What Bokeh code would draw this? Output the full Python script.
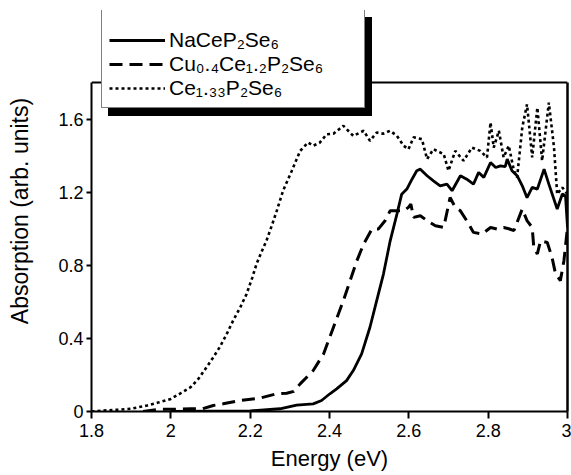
from bokeh.plotting import figure
from bokeh.models import Legend, LegendItem, FixedTicker, Range1d, LinearAxis, Span
from bokeh.embed import file_html
from bokeh.resources import INLINE

FONT = "Liberation Sans"

# ---- data ----
na_E = [2.00, 2.20, 2.275, 2.317, 2.359, 2.38, 2.401, 2.418, 2.443, 2.46, 2.481, 2.502,
        2.519, 2.536, 2.553, 2.57, 2.582, 2.595, 2.608, 2.62, 2.629, 2.646, 2.662, 2.679,
        2.696, 2.709, 2.73, 2.746, 2.763, 2.776, 2.789, 2.806, 2.819, 2.831, 2.843, 2.848,
        2.86, 2.873, 2.886, 2.898, 2.911, 2.924, 2.941, 2.953, 2.974, 2.987, 2.995, 3.0]
na_A = [0.0, 0.003, 0.015, 0.035, 0.042, 0.06, 0.097, 0.124, 0.169, 0.224, 0.315, 0.461,
        0.607, 0.752, 0.934, 1.08, 1.189, 1.217, 1.271, 1.317, 1.326, 1.29, 1.262, 1.235,
        1.244, 1.208, 1.29, 1.271, 1.244, 1.308, 1.281, 1.362, 1.335, 1.344, 1.34, 1.381,
        1.317, 1.29, 1.235, 1.17, 1.226, 1.217, 1.326, 1.244, 1.108, 1.19, 1.18, 1.007]

cu_E = [1.93, 1.97, 2.00, 2.05, 2.08, 2.107, 2.132, 2.174, 2.224, 2.267, 2.292, 2.31,
        2.326, 2.359, 2.385, 2.41, 2.435, 2.452, 2.469, 2.486, 2.507, 2.523, 2.54, 2.553,
        2.57, 2.587, 2.599, 2.605, 2.612, 2.629, 2.646, 2.667, 2.688, 2.704, 2.717, 2.73,
        2.746, 2.763, 2.785, 2.806, 2.823, 2.839, 2.852, 2.865, 2.886, 2.898, 2.911, 2.915,
        2.924, 2.932, 2.949, 2.961, 2.97, 2.982, 2.991, 3.0]
cu_A = [0.0, 0.012, 0.012, 0.015, 0.015, 0.033, 0.042, 0.06, 0.073, 0.097, 0.10, 0.11,
        0.151, 0.224, 0.315, 0.461, 0.607, 0.716, 0.825, 0.916, 0.998, 0.998, 1.044, 1.098,
        1.098, 1.098, 1.117, 1.135, 1.062, 1.071, 1.044, 1.016, 1.007, 1.171, 1.117, 1.098,
        1.044, 0.98, 0.971, 1.007, 0.998, 1.007, 1.0, 0.99, 1.108, 1.044, 1.007, 0.898,
        0.862, 0.934, 0.925, 0.843, 0.752, 0.716, 0.825, 1.007]

ce_E = [1.80, 1.83, 1.87, 1.90, 1.94, 1.97, 2.00, 2.025, 2.05, 2.07, 2.09, 2.105, 2.123,
        2.14, 2.157, 2.175, 2.191, 2.205, 2.216, 2.228, 2.241, 2.255, 2.267, 2.283, 2.305,
        2.326, 2.346, 2.359, 2.375, 2.393, 2.41, 2.435, 2.45, 2.46, 2.486, 2.502, 2.519,
        2.535, 2.553, 2.57, 2.587, 2.599, 2.612, 2.633, 2.646, 2.662, 2.688, 2.70, 2.717,
        2.738, 2.759, 2.78, 2.797, 2.806, 2.814, 2.827, 2.839, 2.852, 2.865, 2.873, 2.886,
        2.898, 2.911, 2.924, 2.936, 2.953, 2.966, 2.974, 2.987, 3.0]
ce_A = [0.0, 0.005, 0.01, 0.015, 0.033, 0.05, 0.069, 0.10, 0.133, 0.18, 0.242, 0.29, 0.351,
        0.42, 0.497, 0.57, 0.643, 0.73, 0.807, 0.87, 0.934, 1.02, 1.098, 1.208, 1.317,
        1.426, 1.472, 1.454, 1.47, 1.517, 1.52, 1.563, 1.53, 1.508, 1.536, 1.481, 1.526,
        1.52, 1.536, 1.508, 1.454, 1.435, 1.50, 1.49, 1.381, 1.435, 1.408, 1.317, 1.426,
        1.372, 1.444, 1.426, 1.39, 1.581, 1.444, 1.536, 1.39, 1.454, 1.317, 1.281, 1.554,
        1.681, 1.39, 1.663, 1.372, 1.69, 1.444, 1.189, 1.226, 1.189]

labels = ["NaCeP₂Se₆", "Cu₀.₄Ce₁.₂P₂Se₆", "Ce₁.₃₃P₂Se₆"]

x_ticks = [1.8, 2.0, 2.2, 2.4, 2.6, 2.8, 3.0]
x_tick_labels = ["1.8", "2", "2.2", "2.4", "2.6", "2.8", "3"]
y_ticks = [0.0, 0.4, 0.8, 1.2, 1.6]
y_tick_labels = ["0", "0.4", "0.8", "1.2", "1.6"]

Y_MIN, Y_MAX = 0.0, 1.8      # data box of the axes
Y_VIEW_TOP = 2.194           # extra room above the box for the legend

p = figure(width=571, height=475, output_backend="svg", toolbar_location=None,
           x_range=Range1d(1.8, 3.0), y_range=Range1d(Y_MIN, Y_VIEW_TOP),
           min_border_left=91, min_border_right=4, min_border_top=10, min_border_bottom=64)

p.xgrid.visible = False
p.ygrid.visible = False
p.outline_line_color = None

r_na = p.line(na_E, na_A, line_color="black", line_width=2.8)
r_cu = p.line(cu_E, cu_A, line_color="black", line_width=3, line_dash="13 7")
r_ce = p.line(ce_E, ce_A, line_color="black", line_width=2.6, line_dash="3 3")

# top edge of the axes box
p.add_layout(Span(location=Y_MAX, dimension="width", line_color="black", line_width=2))

right_ax = LinearAxis(bounds=(Y_MIN, Y_MAX), ticker=FixedTicker(ticks=[]),
                      axis_line_width=2.5, major_label_text_alpha=0,
                      major_tick_line_color=None, minor_tick_line_color=None)
p.add_layout(right_ax, "right")

for ax in (p.xaxis[0], p.yaxis[0]):
    ax.axis_line_width = 2
    ax.major_tick_line_width = 2
    ax.minor_tick_line_color = None
    ax.major_tick_in = 0
    ax.major_label_text_font = FONT
    ax.major_label_text_font_size = "18px"
    ax.major_label_text_color = "black"
    ax.axis_label_text_font = FONT
    ax.axis_label_text_font_size = "22px"
    ax.axis_label_text_font_style = "normal"
    ax.axis_label_text_color = "black"

xax = p.xaxis[0]
xax.ticker = FixedTicker(ticks=x_ticks)
xax.major_label_overrides = {t: s for t, s in zip(x_ticks, x_tick_labels)}
xax.major_tick_out = 7
xax.major_label_standoff = 5
xax.axis_label = "Energy (eV)"
xax.axis_label_standoff = 6

yax = p.yaxis[0]
yax.bounds = (Y_MIN, Y_MAX)
yax.ticker = FixedTicker(ticks=y_ticks)
yax.major_label_overrides = {t: s for t, s in zip(y_ticks, y_tick_labels)}
yax.major_tick_out = 5
yax.major_label_standoff = 3
yax.axis_label = "Absorption (arb. units)"
yax.axis_label_text_font_size = "23px"
yax.axis_label_standoff = 22

renderers = [r_na, r_cu, r_ce]

def make_legend(loc, shadow):
    texts = [" "] * len(labels) if shadow else labels
    return Legend(items=[LegendItem(label=l, renderers=[r]) for l, r in zip(texts, renderers)],
                  location=loc, orientation="vertical", padding=7, spacing=0, margin=0,
                  glyph_width=56, glyph_height=20, label_standoff=4, label_width=188,
                  label_height=24, label_text_font=FONT, label_text_font_size="21px",
                  label_text_color="black", border_line_color="black", border_line_width=1.5,
                  background_fill_color="black" if shadow else "white", background_fill_alpha=1,
                  title=" ", title_text_font_size="8px", title_standoff=2)

# drop shadow first, then the legend box on top of it
p.add_layout(make_legend((17, 295), True), "center")
p.add_layout(make_legend((10, 303), False), "center")

open("out.html", "w").write(file_html(p, INLINE))
